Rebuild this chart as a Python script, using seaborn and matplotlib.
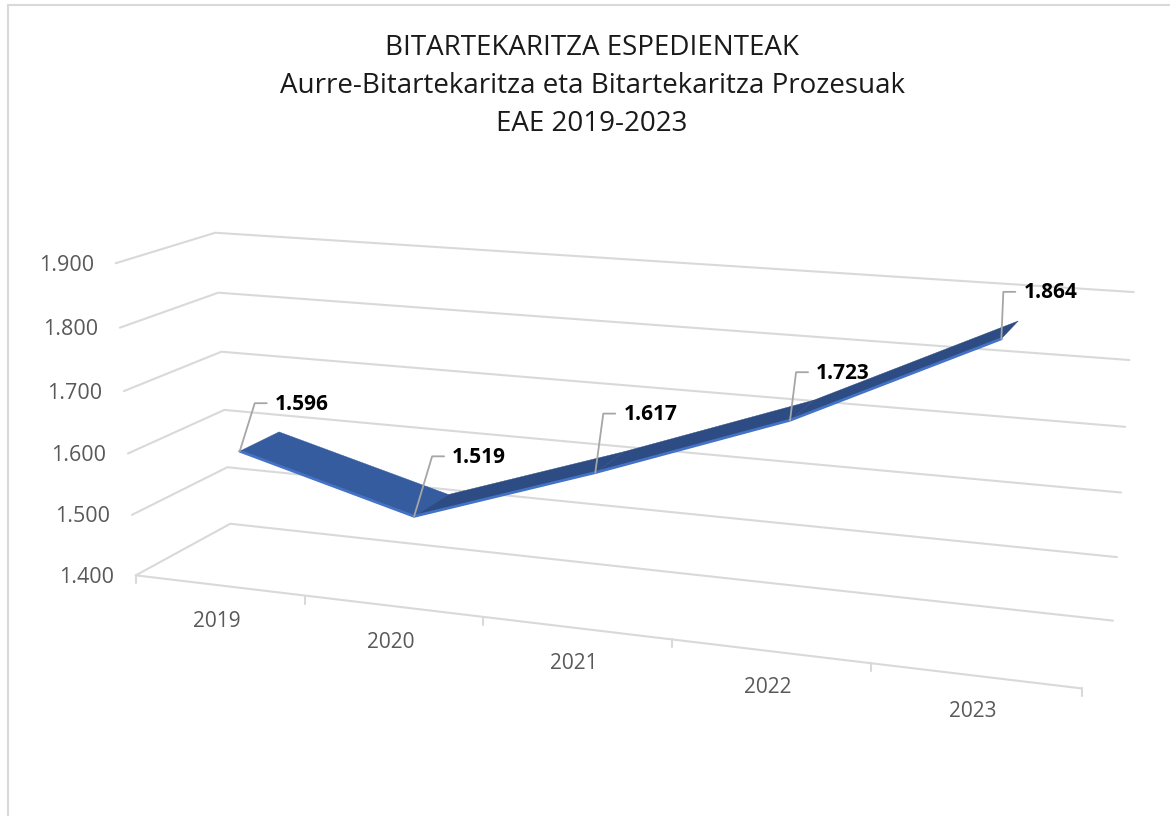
import numpy as np
import pandas as pd
import matplotlib
matplotlib.use("Agg")
import matplotlib.pyplot as plt
import seaborn as sns

years = ["2019", "2020", "2021", "2022", "2023"]
values = [1596, 1519, 1617, 1723, 1864]
value_labels = ["1.596", "1.519", "1.617", "1.723", "1.864"]
axis_ticks = [1400, 1500, 1600, 1700, 1800, 1900]
axis_labels = ["1.400", "1.500", "1.600", "1.700", "1.800", "1.900"]

TITLE = "BITARTEKARITZA ESPEDIENTEAK\nAurre-Bitartekaritza eta Bitartekaritza Prozesuak\nEAE 2019-2023"
GRID = "#d9d9d9"
TEXT = "#595959"
FONT = "Open Sans"

# Perspective camera of the chart box: (category, value, depth) -> pixels.
cube = np.array([[0, 1400, 0], [5, 1400, 0], [0, 1900, 0], [5, 1900, 0],
                 [0, 1400, 1], [5, 1400, 1], [0, 1900, 1], [5, 1900, 1]], float)
screen = np.array([[135, 575], [1082, 687], [116, 263], [1104, 335],
                   [231, 524], [1113, 622], [215, 233], [1133, 290]], float)
scale = np.array([5.0, 500.0, 1.0])
origin = np.array([0.0, 1400.0, 0.0])
rows, rhs = [], []
for c, s in zip(cube, screen):
    p = np.append((c - origin) / scale, 1.0)
    rows.append(np.r_[p, np.zeros(4), -s[0] * p[:3]])
    rows.append(np.r_[np.zeros(4), p, -s[1] * p[:3]])
    rhs += [s[0], s[1]]
H = np.linalg.lstsq(np.array(rows), np.array(rhs), rcond=None)[0]
H = np.append(H, 1.0).reshape(3, 4)


def project(cat, val, depth):
    cat, val, depth = np.broadcast_arrays(np.asarray(cat, float), np.asarray(val, float), np.asarray(depth, float))
    p = np.stack([cat / 5.0, (val - 1400) / 500.0, depth, np.ones_like(cat)])
    q = H @ p.reshape(4, -1)
    return (q[0] / q[2]).reshape(cat.shape), (q[1] / q[2]).reshape(cat.shape)


sns.set_theme(style="white")
plt.rcParams["font.family"] = [FONT, "DejaVu Sans"]
fig = plt.figure(figsize=(11.7, 8.16), dpi=100, facecolor="white")
ax = fig.add_axes([0, 0, 1, 1])
ax.set_xlim(0, 1170)
ax.set_ylim(816, 0)
ax.axis("off")

# chart frame
ax.plot([8, 8, 1170], [816, 5, 5], color=GRID, lw=1.5, zorder=1, solid_joinstyle="miter")

# walls and floor
for v in axis_ticks:
    x, y = project([0, 0, 5], [v, v, v], [0, 1, 1])
    ax.plot(x, y, color=GRID, lw=1.5, zorder=2)
x, y = project([0, 5], [1400, 1400], [0, 0])
ax.plot(x, y, color=GRID, lw=1.5, zorder=2)

# category ticks
for i in range(6):
    x, y = project([i], [1400], [0])
    ax.plot([x[0], x[0]], [y[0], y[0] + 8], color=GRID, lw=1.5, zorder=2)

# value-axis labels
for v, lab in zip(axis_ticks, axis_labels):
    x, y = project([0], [v], [0])
    ax.text(x[0] - 22, y[0] + 2, lab, ha="right", va="center", fontsize=15.5, color=TEXT, zorder=3)

# category labels
cats = np.arange(len(years)) + 0.5
for c, lab in zip(cats, years):
    x, y = project([c], [1400], [0])
    ax.text(x[0] - 2, y[0] + 36, lab, ha="center", va="center", fontsize=15, color=TEXT, zorder=3)

# ribbon
FRONT, BACK = 0.28, 0.71
fx, fy = project(cats, values, FRONT)
bx, by = project(cats, values, BACK)
for i in range(len(years) - 1):
    falling = values[i + 1] < values[i]
    ax.fill([fx[i], fx[i + 1], bx[i + 1], bx[i]], [fy[i], fy[i + 1], by[i + 1], by[i]],
            color="#355c9f" if falling else "#2d4c83", lw=0.3, zorder=4)

line = pd.DataFrame({"x": fx, "y": fy})
sns.lineplot(data=line, x="x", y="y", sort=False, estimator=None, color="#4472c4",
             lw=2.0, ax=ax, zorder=5, legend=False)
ax.set_xlim(0, 1170)
ax.set_ylim(816, 0)
ax.axis("off")

# leader lines and data labels
leader_dx = [15, 18, 8, 6, 2]
leader_dy = [-48, -60, -59, -48, -47]
for px, py, dx, dy, lab in zip(fx, fy, leader_dx, leader_dy, value_labels):
    ax.plot([px, px + dx, px + dx + 12], [py, py + dy, py + dy], color="#a6a6a6", lw=1.3, zorder=6)
    ax.text(px + dx + 20, py + dy + 1, lab, ha="left", va="center", fontsize=15,
            fontweight="bold", color="black", zorder=7)

ax.text(592, 86, TITLE, ha="center", va="center", fontsize=20, color="#1a1a1a",
        linespacing=1.48, zorder=7)

fig.savefig("out.png", dpi=100, facecolor="white")
